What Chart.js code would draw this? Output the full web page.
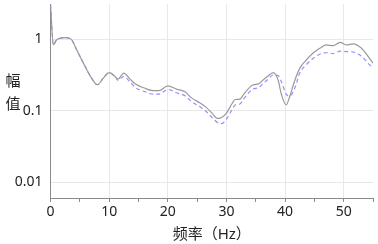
<!DOCTYPE html>
<html>
<head>
<meta charset="utf-8">
<script src="https://cdn.jsdelivr.net/npm/chart.js@4"></script>
<style>
  html, body { margin: 0; padding: 0; background: #fff; }
  #wrap { position: relative; width: 378px; height: 244px; }
</style>
</head>
<body>
<div id="wrap"><canvas id="myChart" width="378" height="244"></canvas></div>
<script>
// frequency points (Hz)
const freq = [0, 0.5, 1, 1.5, 2.5, 3.5, 4.5, 6, 7, 8, 9, 10, 11, 11.5, 12.5, 13.5, 14.5, 16, 17.5, 18.5,
  20, 21.5, 23, 24, 25.5, 26.5, 27.5, 28.5, 29.2, 30, 31, 31.5, 32.3, 33, 34.5, 35.5, 36.3, 37, 38, 38.8,
  39.4, 40.2, 40.8, 41.7, 42.5, 43.6, 44.8, 46, 47, 48.2, 49.4, 50.5, 51.6, 53, 54.4, 55];

// gray solid line
const ampA = [3.0, 0.83, 0.97, 1.02, 1.05, 1.0, 0.7, 0.40, 0.285, 0.23, 0.285, 0.34, 0.30, 0.275, 0.335, 0.28, 0.235, 0.207, 0.19, 0.19,
  0.222, 0.2, 0.182, 0.152, 0.128, 0.112, 0.093, 0.078, 0.08, 0.092, 0.127, 0.143, 0.145, 0.172, 0.228, 0.237, 0.27, 0.3, 0.34, 0.27,
  0.166, 0.12, 0.158, 0.27, 0.39, 0.51, 0.64, 0.75, 0.83, 0.81, 0.9, 0.83, 0.86, 0.75, 0.54, 0.46];

// blue dashed line
const ampB = [3.0, 0.83, 0.97, 1.02, 1.05, 1.0, 0.7, 0.40, 0.285, 0.23, 0.285, 0.34, 0.30, 0.265, 0.30, 0.255, 0.21, 0.185, 0.17, 0.17,
  0.198, 0.178, 0.16, 0.135, 0.113, 0.098, 0.081, 0.068, 0.066, 0.076, 0.105, 0.12, 0.124, 0.148, 0.2, 0.21, 0.24, 0.27, 0.315, 0.31,
  0.25, 0.17, 0.16, 0.21, 0.335, 0.437, 0.54, 0.62, 0.645, 0.63, 0.68, 0.67, 0.66, 0.58, 0.44, 0.40];

const yTicks = [0.01, 0.1, 1];
const xTitle = '频率（Hz）';
const yTitle = ['幅', '值'];

const fontFam = '"Noto Sans", "Noto Sans CJK SC", sans-serif';

function pts(xs, ys) {
  return xs.map((x, i) => ({ x: x, y: ys[i] }));
}

// upright stacked y title
const yTitlePlugin = {
  id: 'yTitle',
  afterDraw(chart) {
    const c = chart.ctx;
    c.save();
    c.fillStyle = '#222';
    c.font = '15px "Noto Sans CJK SC", sans-serif';
    c.textAlign = 'center';
    c.textBaseline = 'middle';
    c.fillText(yTitle[0], 13, 80);
    c.fillText(yTitle[1], 13, 103);
    c.restore();
  }
};

let ctx = document.querySelector('#myChart').getContext('2d');
let myChart = new Chart(ctx, {
  type: 'line',
  data: {
    datasets: [
      {
        label: 'A',
        data: pts(freq, ampA),
        borderColor: '#9a9a9a',
        borderWidth: 1.2,
        pointRadius: 0,
        tension: 0.3,
        cubicInterpolationMode: 'monotone'
      },
      {
        label: 'B',
        data: pts(freq, ampB),
        borderColor: '#9090ff',
        borderWidth: 1.2,
        borderDash: [4, 3],
        pointRadius: 0,
        tension: 0.3,
        cubicInterpolationMode: 'monotone'
      }
    ]
  },
  options: {
    responsive: false,
    animation: false,
    layout: { padding: { top: 4, right: 5, left: 0, bottom: 0 } },
    plugins: { legend: { display: false }, tooltip: { enabled: false } },
    scales: {
      x: {
        type: 'linear',
        min: 0,
        max: 55,
        border: { color: '#8a8a8a' },
        grid: {
          color: (c) => (c.tick && c.tick.value % 10 === 0 && c.tick.value !== 0) ? '#e8e8e8' : 'rgba(0,0,0,0)',
          tickColor: '#8a8a8a',
          tickLength: 4,
          drawOnChartArea: true
        },
        ticks: {
          stepSize: 5,
          color: '#222',
          font: { family: fontFam, size: 14 },
          maxRotation: 0,
          padding: 2,
          callback: (v) => (v % 10 === 0 ? v : '')
        },
        title: {
          display: true,
          text: xTitle,
          color: '#222',
          font: { family: fontFam, size: 15 },
          padding: { top: 0, bottom: 0 }
        },
        afterFit: (s) => { s.height = 46; s.paddingLeft = 0; s.paddingRight = 0; }
      },
      y: {
        type: 'logarithmic',
        min: 0.006,
        max: 3.1,
        border: { color: '#8a8a8a' },
        grid: { color: '#e8e8e8', drawTicks: false },
        afterBuildTicks: (s) => { s.ticks = yTicks.map(v => ({ value: v })); },
        ticks: {
          color: '#222',
          font: { family: fontFam, size: 14 },
          padding: 8,
          callback: (v) => String(v)
        },
        afterFit: (s) => { s.width = 50.5; s.paddingTop = 0; s.paddingBottom = 0; }
      }
    }
  },
  plugins: [yTitlePlugin]
});
</script>
</body>
</html>
